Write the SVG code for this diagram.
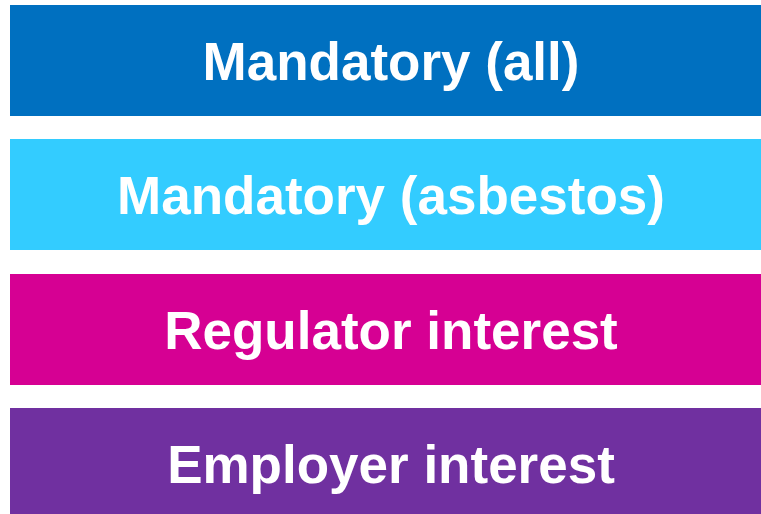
<svg xmlns="http://www.w3.org/2000/svg" width="761" height="514" viewBox="0 0 761 514">
<style>
.t{font-family:"Liberation Sans",Arial,sans-serif;font-weight:bold;font-size:53px;fill:#fff;text-anchor:middle}
</style>
<rect width="761" height="514" fill="#fff"/>
<g id="mandatory-all"><rect x="10" y="5" width="760" height="111" fill="#0070C0"/><text class="t" x="391" y="80">Mandatory (all)</text></g>
<g id="mandatory-asbestos"><rect x="10" y="139" width="760" height="111" fill="#33CCFF"/><text class="t" x="391" y="214">Mandatory (asbestos)</text></g>
<g id="regulator-interest"><rect x="10" y="274" width="760" height="111" fill="#D60093"/><text class="t" x="391" y="349">Regulator interest</text></g>
<g id="employer-interest"><rect x="10" y="408" width="760" height="111" fill="#7030A0"/><text class="t" x="391" y="483">Employer interest</text></g>
<g id="connectors"></g>
</svg>
